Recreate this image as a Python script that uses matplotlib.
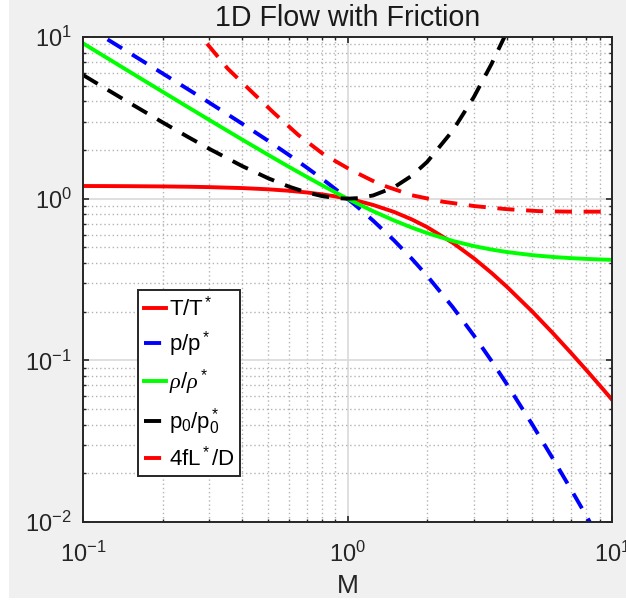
import matplotlib
matplotlib.use('Agg')
import matplotlib.pyplot as plt
from matplotlib.patches import Rectangle
from matplotlib.ticker import LogLocator, NullFormatter

matplotlib.rcParams.update({
    'font.family': ['Liberation Sans', 'DejaVu Sans'],
    'mathtext.fontset': 'custom',
    'mathtext.rm': 'Liberation Sans',
    'mathtext.it': 'Liberation Serif:italic',
    'font.size': 17,
})

# Mach numbers and the ratios
mach = [0.1, 0.12, 0.15, 0.2, 0.25, 0.3, 0.4, 0.5, 0.6, 0.7, 0.8, 0.9, 1.0,
        1.1, 1.25, 1.5, 1.75, 2.0, 2.5, 3.0, 3.5, 4.0, 5.0, 6.0, 7.0, 8.0,
        9.0, 10.0]
T_ratio = [1.1976, 1.1966, 1.1946, 1.1905, 1.1852, 1.1788, 1.1628, 1.1429,
           1.1194, 1.0929, 1.0638, 1.0327, 1.0, 0.9662, 0.9143, 0.8276,
           0.7442, 0.6667, 0.5333, 0.4286, 0.3478, 0.2857, 0.2, 0.1463,
           0.1111, 0.0870, 0.0698, 0.0571]
p_ratio = [11.976, 9.971, 7.964, 5.952, 4.741, 3.929, 2.907, 2.286, 1.866,
           1.561, 1.330, 1.147, 1.0, 0.8783, 0.7314, 0.5517, 0.4253, 0.3333,
           0.2133, 0.1429, 0.0994, 0.0714, 0.04, 0.0244, 0.0159, 0.0109,
           0.00775, 0.00571]
rho_ratio = [9.138, 7.618, 6.099, 4.583, 3.674, 3.070, 2.318, 1.871, 1.575,
             1.367, 1.212, 1.093, 1.0, 0.9249, 0.8367, 0.7328, 0.6624,
             0.6124, 0.5477, 0.5092, 0.4845, 0.4677, 0.4472, 0.4357, 0.4286,
             0.4239, 0.4207, 0.4183]

mach_p0 = [0.1, 0.12, 0.15, 0.2, 0.25, 0.3, 0.4, 0.5, 0.6, 0.7, 0.8, 0.9,
           1.0, 1.1, 1.25, 1.5, 1.75, 2.0, 2.5, 3.0, 3.5, 4.0, 5.0]
p0_ratio = [5.822, 4.864, 3.910, 2.964, 2.403, 2.035, 1.590, 1.340, 1.188,
            1.094, 1.038, 1.009, 1.0, 1.008, 1.047, 1.176, 1.386, 1.6875,
            2.637, 4.235, 6.790, 10.72, 25.0]

mach_fl = [0.25, 0.294, 0.352, 0.431, 0.526, 0.651, 0.812, 1.026, 1.32,
           1.75, 2.29, 3.03, 4.0, 5.3, 7.03, 9.2, 10.0]
fl_ratio = [12.4, 9.12, 6.39, 4.64, 3.40, 2.48, 1.88, 1.51, 1.23, 1.05,
            0.958, 0.899, 0.861, 0.837, 0.831, 0.831, 0.830]

dash = (0, (4.4, 3.0))
lw = 2.8

fig = plt.figure(figsize=(6.26, 6.02), dpi=100, facecolor='white')
fig.add_artist(Rectangle((9 / 626, 4 / 602), 1, 1, transform=fig.transFigure,
                         facecolor='#f0f0f0', edgecolor='none', zorder=-10))

ax = fig.add_axes([83 / 626, 1 - 522 / 602, 529 / 626, 485 / 602])
ax.set_facecolor('white')

ax.plot(mach, T_ratio, color=(1, 0, 0), lw=lw, label='T/T$^*$')
ax.plot(mach, p_ratio, color=(0, 0, 1), lw=lw, ls=dash, label='p/p$^*$')
ax.plot(mach, rho_ratio, color=(0, 1, 0), lw=lw, label=r'$\rho/\rho^*$')
ax.plot(mach_p0, p0_ratio, color='black', lw=lw, ls=dash,
        label='p$_0$/p$_0^*$')
ax.plot(mach_fl, fl_ratio, color=(1, 0, 0), lw=lw, ls=dash,
        label='4fL$^*$/D')

ax.set_xscale('log')
ax.set_yscale('log')
ax.set_xlim(0.1, 10)
ax.set_ylim(0.01, 10)

ax.xaxis.set_minor_locator(LogLocator(base=10, subs=range(2, 10)))
ax.yaxis.set_minor_locator(LogLocator(base=10, subs=range(2, 10)))
ax.xaxis.set_minor_formatter(NullFormatter())
ax.yaxis.set_minor_formatter(NullFormatter())

ax.set_axisbelow(True)
ax.grid(True, which='major', color='#d9d9d9', lw=1.2, ls='-')
ax.grid(True, which='minor', color='#b3b3b3', lw=1.0, ls=(0, (1, 2)))

ax.tick_params(which='both', direction='in', top=True, right=True,
               color='#262626', labelcolor='#262626')
ax.tick_params(which='major', length=4, width=1.2, pad=8)
ax.tick_params(axis='x', which='major', pad=14)
ax.tick_params(which='minor', length=2.5, width=1.0)
for s in ax.spines.values():
    s.set_linewidth(1.4)
    s.set_color('#262626')

ax.set_title('1D Flow with Friction', fontsize=20.6, color='#1a1a1a', pad=8)
ax.set_xlabel('M', fontsize=19, color='#262626', labelpad=5)

leg = ax.legend(loc='lower left', bbox_to_anchor=(0.104, 0.095),
                borderaxespad=0, fontsize=16, handlelength=1.0,
                handletextpad=0.15, labelspacing=0.4, fancybox=False,
                framealpha=1, edgecolor='#262626', borderpad=0.25)
leg.get_frame().set_linewidth(1.4)

fig.savefig('out.png', dpi=100, facecolor=fig.get_facecolor())
